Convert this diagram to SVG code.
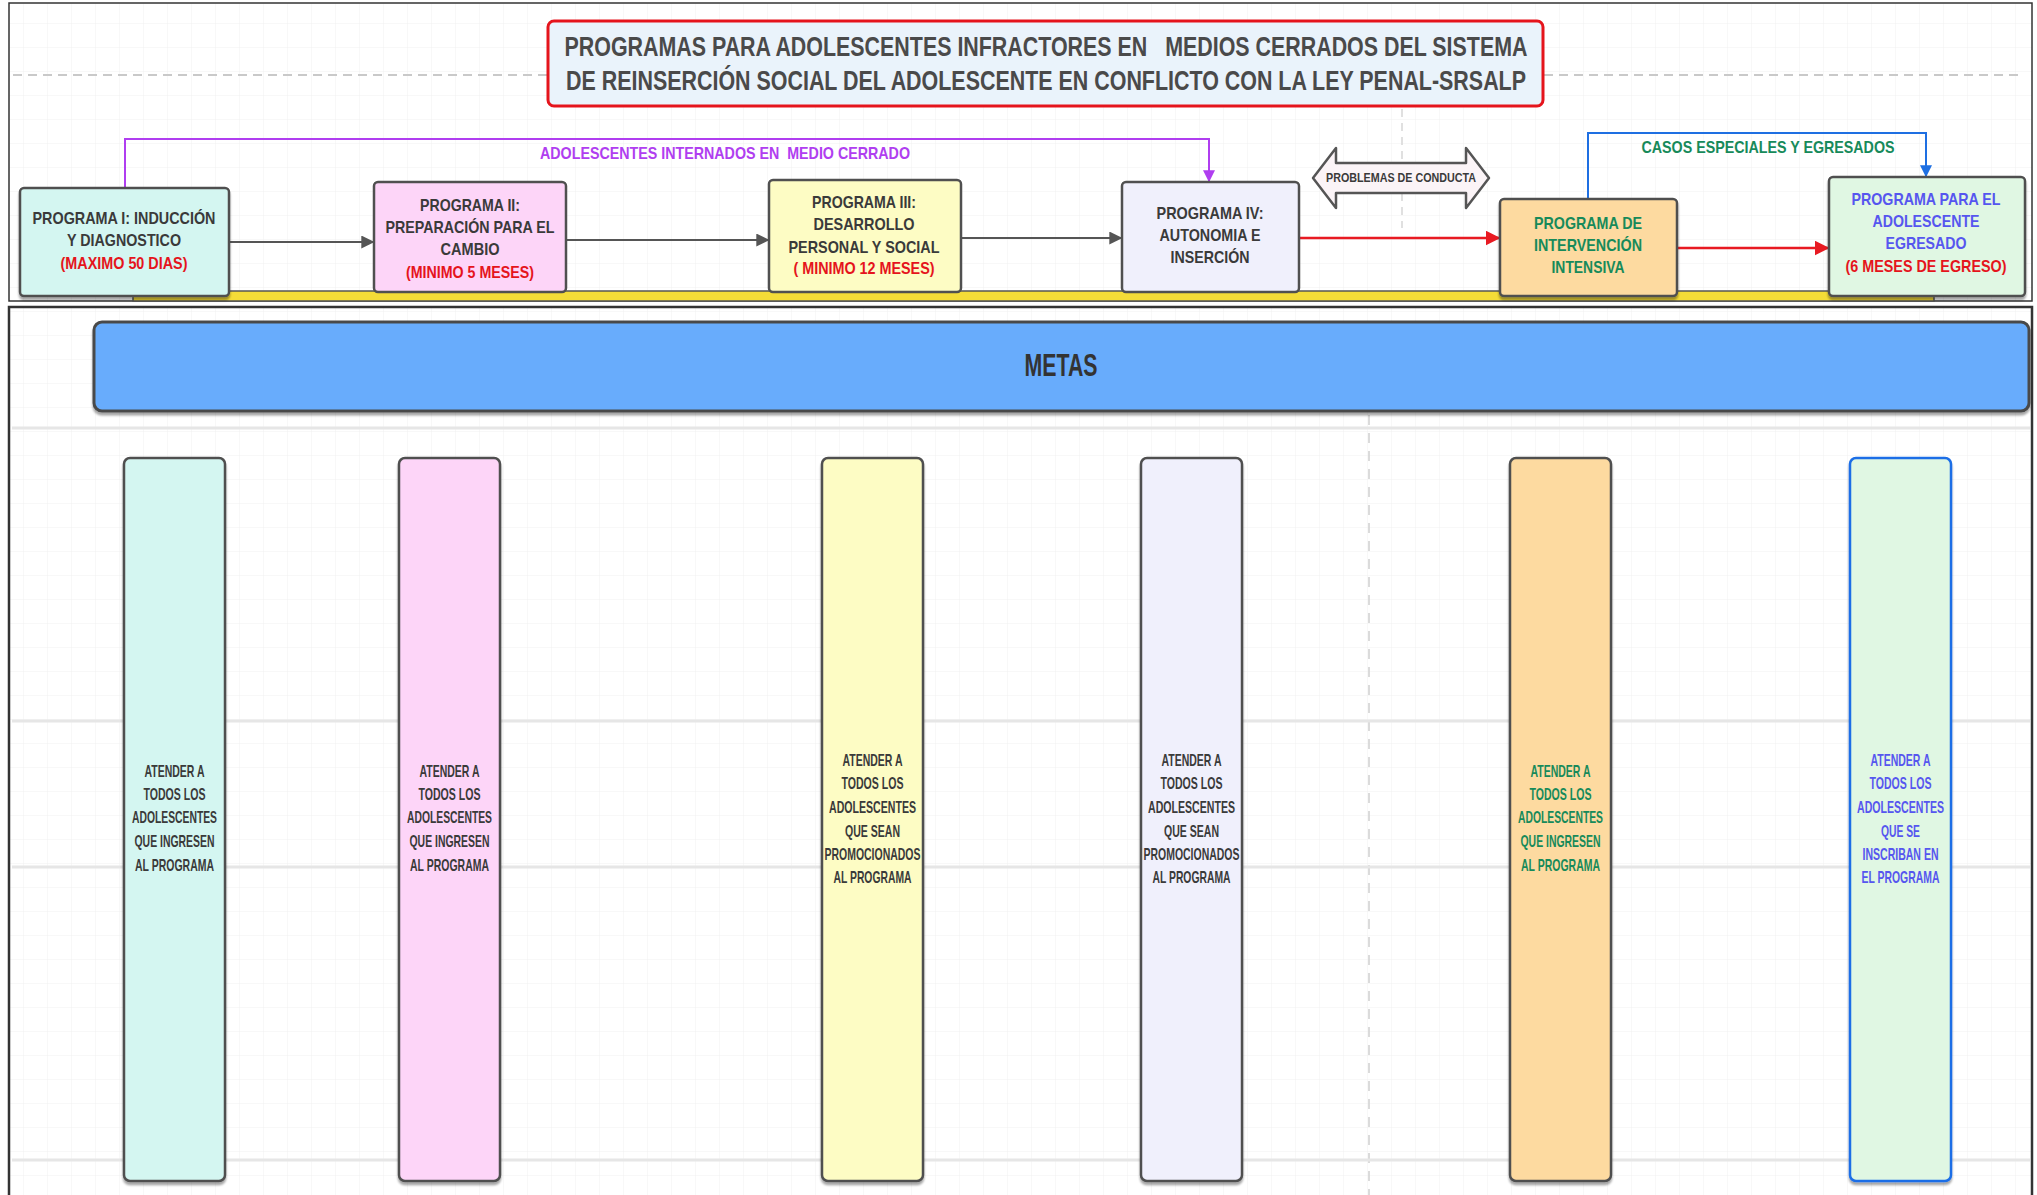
<svg xmlns="http://www.w3.org/2000/svg" width="2037" height="1195" viewBox="0 0 2037 1195">
<style>
.t{font-family:"Liberation Sans",Arial,sans-serif;font-weight:bold;text-anchor:middle;}
.pre{white-space:pre}
.f17{font-size:17px}
.dk{fill:#3a3a3a}
.rd{fill:#e5141c}
.gr{fill:#178a5a}
.bl{fill:#5656ef}
.pu{fill:#b03ef0}
.box{stroke:#505050;stroke-width:2.5}
.col{stroke:#505050;stroke-width:2.5}
.gl{stroke:#e6e6e6;stroke-width:3}
</style>
<defs>
<pattern id="grid" width="24" height="24" patternUnits="userSpaceOnUse">
<path d="M24 0V24M0 24H24" fill="none" stroke="#f1f1f1" stroke-width="1"/>
</pattern>
<filter id="sh" x="-10%" y="-10%" width="120%" height="130%">
<feDropShadow dx="0" dy="3" stdDeviation="1.2" flood-color="#000" flood-opacity="0.35"/>
</filter>
<marker id="ag" viewBox="0 0 10 10" markerWidth="6.5" markerHeight="6.5" refX="9" refY="5" orient="auto"><path d="M0,0L10,5L0,10z" fill="#555"/></marker>
<marker id="ar" viewBox="0 0 10 10" markerWidth="6" markerHeight="6" refX="9" refY="5" orient="auto"><path d="M0,0L10,5L0,10z" fill="#e81a22"/></marker>
<marker id="ap" viewBox="0 0 10 10" markerWidth="6" markerHeight="6" refX="9" refY="5" orient="auto"><path d="M0,0L10,5L0,10z" fill="#b03ef0"/></marker>
<marker id="ab" viewBox="0 0 10 10" markerWidth="6" markerHeight="6" refX="9" refY="5" orient="auto"><path d="M0,0L10,5L0,10z" fill="#1e6fe2"/></marker>
</defs>
<rect width="2037" height="1195" fill="#fff"/>
<rect x="9" y="3" width="2023" height="298" fill="url(#grid)"/>
<rect x="9" y="307" width="2023" height="900" fill="url(#grid)"/>
<g id="background-lines">
<line x1="13" y1="75" x2="547" y2="75" stroke="#c9c9c9" stroke-width="2" stroke-dasharray="9 6"/>
<line x1="1544" y1="75" x2="2020" y2="75" stroke="#c9c9c9" stroke-width="2" stroke-dasharray="9 6"/>
<line x1="1402" y1="95" x2="1402" y2="228" stroke="#d6d6d6" stroke-width="1.5" stroke-dasharray="8 6"/>
<line x1="1369" y1="415" x2="1369" y2="1195" stroke="#cfcfcf" stroke-width="1.5" stroke-dasharray="10 8"/>
<line class="gl" x1="12" y1="428" x2="2030" y2="428"/>
<line class="gl" x1="12" y1="721" x2="2030" y2="721"/>
<line class="gl" x1="12" y1="867" x2="2030" y2="867"/>
<line class="gl" x1="12" y1="1160" x2="2030" y2="1160"/>
</g>
<rect x="9" y="3" width="2023" height="298" fill="none" stroke="#333" stroke-width="1.5"/>
<rect x="9" y="307" width="2023" height="900" fill="none" stroke="#333" stroke-width="2.5"/>

<g id="title">
<rect x="548" y="21" width="995" height="85" rx="6" fill="#eaf3fb" stroke="#e5141c" stroke-width="3"/>
<text class="t pre" x="1046" y="56" font-size="27" fill="#4a4a4a" textLength="963" lengthAdjust="spacingAndGlyphs">PROGRAMAS PARA ADOLESCENTES INFRACTORES EN   MEDIOS CERRADOS DEL SISTEMA</text>
<text class="t" x="1046" y="89.5" font-size="27" fill="#4a4a4a" textLength="960" lengthAdjust="spacingAndGlyphs">DE REINSERCIÓN SOCIAL DEL ADOLESCENTE EN CONFLICTO CON LA LEY PENAL-SRSALP</text>
</g>

<g id="yellow-bar">
<rect x="133" y="291" width="1801" height="10" fill="#f4dc37" stroke="#555" stroke-width="1.5"/>
</g>

<g id="connectors" fill="none">
<line x1="230" y1="242" x2="373" y2="242" stroke="#555" stroke-width="2" marker-end="url(#ag)"/>
<line x1="567" y1="240" x2="768" y2="240" stroke="#555" stroke-width="2" marker-end="url(#ag)"/>
<line x1="962" y1="238" x2="1121" y2="238" stroke="#555" stroke-width="2" marker-end="url(#ag)"/>
<line x1="1300" y1="238" x2="1499" y2="238" stroke="#e81a22" stroke-width="2.5" marker-end="url(#ar)"/>
<line x1="1678" y1="248" x2="1828" y2="248" stroke="#e81a22" stroke-width="2.5" marker-end="url(#ar)"/>
<path d="M125,188V139H1209V181" stroke="#b03ef0" stroke-width="2" marker-end="url(#ap)"/>
<path d="M1588,199V133H1926V176" stroke="#1e6fe2" stroke-width="2" marker-end="url(#ab)"/>
<text class="t pu f17 pre" x="725" y="159" textLength="370" lengthAdjust="spacingAndGlyphs">ADOLESCENTES INTERNADOS EN  MEDIO CERRADO</text>
<text class="t gr f17" x="1768" y="153" textLength="253" lengthAdjust="spacingAndGlyphs">CASOS ESPECIALES Y EGRESADOS</text>
</g>

<g id="problemas-conducta">
<path d="M1313,178L1336,148L1336,163L1466,163L1466,148L1489,178L1466,208L1466,193L1336,193L1336,208Z" fill="#fbf4f7" stroke="#555" stroke-width="2.5" stroke-linejoin="round"/>
<text class="t dk" x="1401" y="182" font-size="12.5" textLength="150" lengthAdjust="spacingAndGlyphs">PROBLEMAS DE CONDUCTA</text>
</g>

<g id="programa-1">
<rect class="box" x="20" y="188" width="209" height="108" rx="4" fill="#d4f6f1" filter="url(#sh)"/>
<text class="t dk f17" x="124" y="224" textLength="183" lengthAdjust="spacingAndGlyphs">PROGRAMA I: INDUCCIÓN</text>
<text class="t dk f17" x="124" y="246" textLength="114" lengthAdjust="spacingAndGlyphs">Y DIAGNOSTICO</text>
<text class="t rd f17" x="124" y="269" textLength="127" lengthAdjust="spacingAndGlyphs">(MAXIMO 50 DIAS)</text>
</g>

<g id="programa-2">
<rect class="box" x="374" y="182" width="192" height="110" rx="4" fill="#fdd5f8"/>
<text class="t dk f17" x="470" y="211" textLength="100" lengthAdjust="spacingAndGlyphs">PROGRAMA II:</text>
<text class="t dk f17" x="470" y="233" textLength="169" lengthAdjust="spacingAndGlyphs">PREPARACIÓN PARA EL</text>
<text class="t dk f17" x="470" y="255" textLength="59" lengthAdjust="spacingAndGlyphs">CAMBIO</text>
<text class="t rd f17" x="470" y="278" textLength="128" lengthAdjust="spacingAndGlyphs">(MINIMO 5 MESES)</text>
</g>

<g id="programa-3">
<rect class="box" x="769" y="180" width="192" height="112" rx="4" fill="#fdfcc4"/>
<text class="t dk f17" x="864" y="208" textLength="104" lengthAdjust="spacingAndGlyphs">PROGRAMA III:</text>
<text class="t dk f17" x="864" y="230" textLength="101" lengthAdjust="spacingAndGlyphs">DESARROLLO</text>
<text class="t dk f17" x="864" y="253" textLength="151" lengthAdjust="spacingAndGlyphs">PERSONAL Y SOCIAL</text>
<text class="t rd f17" x="864" y="274" textLength="141" lengthAdjust="spacingAndGlyphs">( MINIMO 12 MESES)</text>
</g>

<g id="programa-4">
<rect class="box" x="1122" y="182" width="177" height="110" rx="4" fill="#f0f0fc"/>
<text class="t dk f17" x="1210" y="219" textLength="107" lengthAdjust="spacingAndGlyphs">PROGRAMA IV:</text>
<text class="t dk f17" x="1210" y="241" textLength="101" lengthAdjust="spacingAndGlyphs">AUTONOMIA E</text>
<text class="t dk f17" x="1210" y="263" textLength="79" lengthAdjust="spacingAndGlyphs">INSERCIÓN</text>
</g>

<g id="programa-intervencion">
<rect class="box" x="1500" y="199" width="177" height="97" rx="4" fill="#fddaa0" filter="url(#sh)"/>
<text class="t gr f17" x="1588" y="229" textLength="108" lengthAdjust="spacingAndGlyphs">PROGRAMA DE</text>
<text class="t gr f17" x="1588" y="251" textLength="108" lengthAdjust="spacingAndGlyphs">INTERVENCIÓN</text>
<text class="t gr f17" x="1588" y="273" textLength="73" lengthAdjust="spacingAndGlyphs">INTENSIVA</text>
</g>

<g id="programa-egresado">
<rect class="box" x="1829" y="177" width="196" height="119" rx="4" fill="#e0f7e3" filter="url(#sh)"/>
<text class="t bl f17" x="1926" y="205" textLength="149" lengthAdjust="spacingAndGlyphs">PROGRAMA PARA EL</text>
<text class="t bl f17" x="1926" y="227" textLength="107" lengthAdjust="spacingAndGlyphs">ADOLESCENTE</text>
<text class="t bl f17" x="1926" y="249" textLength="81" lengthAdjust="spacingAndGlyphs">EGRESADO</text>
<text class="t rd f17" x="1926" y="272" textLength="161" lengthAdjust="spacingAndGlyphs">(6 MESES DE EGRESO)</text>
</g>

<g id="metas">
<rect x="94" y="322" width="1935" height="89" rx="8" fill="#67acfc" stroke="#4a4a4a" stroke-width="3" filter="url(#sh)"/>
<text class="t" x="1061" y="376" font-size="32" fill="#333" textLength="73" lengthAdjust="spacingAndGlyphs">METAS</text>
</g>

<g id="meta-1">
<rect class="col" x="124" y="458" width="101" height="723" rx="6" fill="#d4f6f1" filter="url(#sh)"/>
<text class="t dk f17" x="174.5" y="777" textLength="60" lengthAdjust="spacingAndGlyphs">ATENDER A</text>
<text class="t dk f17" x="174.5" y="800" textLength="62" lengthAdjust="spacingAndGlyphs">TODOS LOS</text>
<text class="t dk f17" x="174.5" y="823" textLength="85" lengthAdjust="spacingAndGlyphs">ADOLESCENTES</text>
<text class="t dk f17" x="174.5" y="847" textLength="80" lengthAdjust="spacingAndGlyphs">QUE INGRESEN</text>
<text class="t dk f17" x="174.5" y="871" textLength="79" lengthAdjust="spacingAndGlyphs">AL PROGRAMA</text>
</g>

<g id="meta-2">
<rect class="col" x="399" y="458" width="101" height="723" rx="6" fill="#fdd5f8" filter="url(#sh)"/>
<text class="t dk f17" x="449.5" y="777" textLength="60" lengthAdjust="spacingAndGlyphs">ATENDER A</text>
<text class="t dk f17" x="449.5" y="800" textLength="62" lengthAdjust="spacingAndGlyphs">TODOS LOS</text>
<text class="t dk f17" x="449.5" y="823" textLength="85" lengthAdjust="spacingAndGlyphs">ADOLESCENTES</text>
<text class="t dk f17" x="449.5" y="847" textLength="80" lengthAdjust="spacingAndGlyphs">QUE INGRESEN</text>
<text class="t dk f17" x="449.5" y="871" textLength="79" lengthAdjust="spacingAndGlyphs">AL PROGRAMA</text>
</g>

<g id="meta-3">
<rect class="col" x="822" y="458" width="101" height="723" rx="6" fill="#fdfcc4" filter="url(#sh)"/>
<text class="t dk f17" x="872.5" y="766" textLength="60" lengthAdjust="spacingAndGlyphs">ATENDER A</text>
<text class="t dk f17" x="872.5" y="789" textLength="62" lengthAdjust="spacingAndGlyphs">TODOS LOS</text>
<text class="t dk f17" x="872.5" y="813" textLength="87" lengthAdjust="spacingAndGlyphs">ADOLESCENTES</text>
<text class="t dk f17" x="872.5" y="837" textLength="55" lengthAdjust="spacingAndGlyphs">QUE SEAN</text>
<text class="t dk f17" x="872.5" y="860" textLength="96" lengthAdjust="spacingAndGlyphs">PROMOCIONADOS</text>
<text class="t dk f17" x="872.5" y="883" textLength="78" lengthAdjust="spacingAndGlyphs">AL PROGRAMA</text>
</g>

<g id="meta-4">
<rect class="col" x="1141" y="458" width="101" height="723" rx="6" fill="#f0f0fc" filter="url(#sh)"/>
<text class="t dk f17" x="1191.5" y="766" textLength="60" lengthAdjust="spacingAndGlyphs">ATENDER A</text>
<text class="t dk f17" x="1191.5" y="789" textLength="62" lengthAdjust="spacingAndGlyphs">TODOS LOS</text>
<text class="t dk f17" x="1191.5" y="813" textLength="87" lengthAdjust="spacingAndGlyphs">ADOLESCENTES</text>
<text class="t dk f17" x="1191.5" y="837" textLength="55" lengthAdjust="spacingAndGlyphs">QUE SEAN</text>
<text class="t dk f17" x="1191.5" y="860" textLength="96" lengthAdjust="spacingAndGlyphs">PROMOCIONADOS</text>
<text class="t dk f17" x="1191.5" y="883" textLength="78" lengthAdjust="spacingAndGlyphs">AL PROGRAMA</text>
</g>

<g id="meta-5">
<rect class="col" x="1510" y="458" width="101" height="723" rx="6" fill="#fddaa0" filter="url(#sh)"/>
<text class="t gr f17" x="1560.5" y="777" textLength="60" lengthAdjust="spacingAndGlyphs">ATENDER A</text>
<text class="t gr f17" x="1560.5" y="800" textLength="62" lengthAdjust="spacingAndGlyphs">TODOS LOS</text>
<text class="t gr f17" x="1560.5" y="823" textLength="85" lengthAdjust="spacingAndGlyphs">ADOLESCENTES</text>
<text class="t gr f17" x="1560.5" y="847" textLength="80" lengthAdjust="spacingAndGlyphs">QUE INGRESEN</text>
<text class="t gr f17" x="1560.5" y="871" textLength="79" lengthAdjust="spacingAndGlyphs">AL PROGRAMA</text>
</g>

<g id="meta-6">
<rect x="1850" y="458" width="101" height="723" rx="6" fill="#e0f7e3" stroke="#1a6ee6" stroke-width="2.5" filter="url(#sh)"/>
<text class="t bl f17" x="1900.5" y="766" textLength="60" lengthAdjust="spacingAndGlyphs">ATENDER A</text>
<text class="t bl f17" x="1900.5" y="789" textLength="62" lengthAdjust="spacingAndGlyphs">TODOS LOS</text>
<text class="t bl f17" x="1900.5" y="813" textLength="87" lengthAdjust="spacingAndGlyphs">ADOLESCENTES</text>
<text class="t bl f17" x="1900.5" y="837" textLength="39" lengthAdjust="spacingAndGlyphs">QUE SE</text>
<text class="t bl f17" x="1900.5" y="860" textLength="76" lengthAdjust="spacingAndGlyphs">INSCRIBAN EN</text>
<text class="t bl f17" x="1900.5" y="883" textLength="78" lengthAdjust="spacingAndGlyphs">EL PROGRAMA</text>
</g>
</svg>
